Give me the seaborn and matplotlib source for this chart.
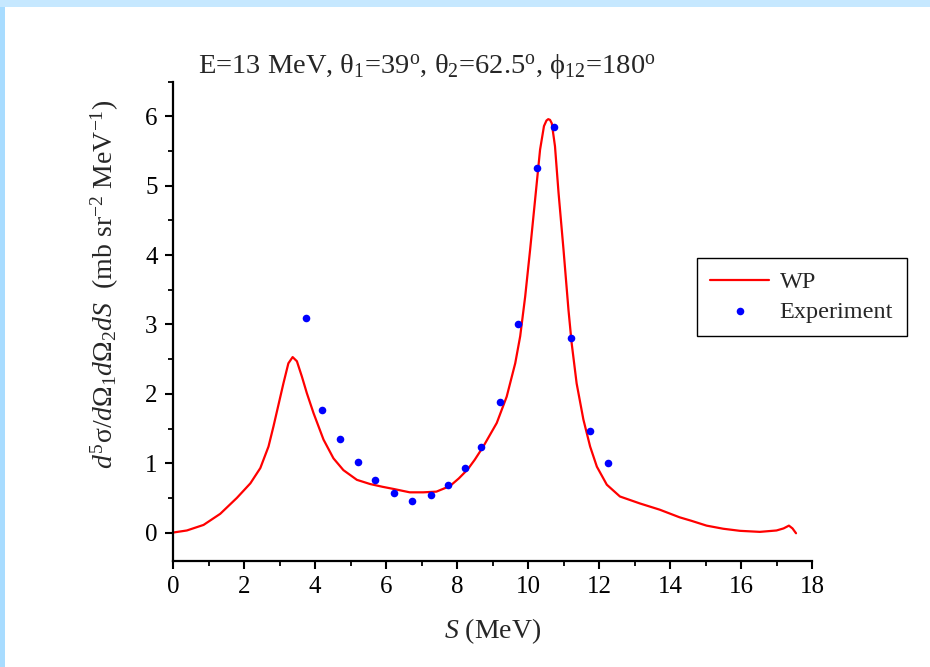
import matplotlib
matplotlib.use("Agg")
import matplotlib.pyplot as plt
import seaborn as sns
import pandas as pd
from matplotlib.patches import Rectangle
from matplotlib.ticker import MultipleLocator

# WP calculation curve
wp_s = [0, 0.39, 0.86, 1.33, 1.80, 2.18, 2.46, 2.69, 2.83, 2.97, 3.11, 3.25, 3.37, 3.49,
        3.63, 3.77, 3.96, 4.24, 4.52, 4.80, 5.18, 5.55, 5.90, 6.20, 6.67, 7.05, 7.42,
        7.80, 8.05, 8.30, 8.50, 8.74, 9.12, 9.40, 9.64, 9.78, 9.92, 10.06, 10.20, 10.34,
        10.45, 10.52, 10.57, 10.62, 10.67, 10.76, 10.86, 11.00, 11.14, 11.23, 11.37,
        11.56, 11.75, 11.94, 12.22, 12.59, 13.15, 13.71, 14.27, 14.60, 15.03, 15.50,
        15.97, 16.53, 17.00, 17.20, 17.35, 17.45, 17.55]
wp_val = [0, 0.03, 0.11, 0.27, 0.50, 0.71, 0.93, 1.24, 1.53, 1.84, 2.15, 2.44, 2.53, 2.47,
          2.25, 2.01, 1.72, 1.34, 1.07, 0.90, 0.76, 0.70, 0.66, 0.63, 0.58, 0.58, 0.59,
          0.67, 0.78, 0.91, 1.05, 1.24, 1.58, 1.96, 2.44, 2.83, 3.40, 4.08, 4.80, 5.52,
          5.86, 5.94, 5.96, 5.95, 5.90, 5.57, 4.90, 4.08, 3.21, 2.73, 2.15,
          1.63, 1.24, 0.95, 0.69, 0.52, 0.42, 0.33, 0.22, 0.17, 0.10, 0.055,
          0.025, 0.01, 0.03, 0.06, 0.10, 0.06, -0.01]

# Experimental data
exp_s = [3.76, 4.20, 4.71, 5.21, 5.68, 6.23, 6.72, 7.26, 7.76, 8.23, 8.69, 9.21,
         9.73, 10.26, 10.73, 11.20, 11.74, 12.25]
exp_val = [3.10, 1.77, 1.35, 1.02, 0.76, 0.57, 0.45, 0.54, 0.68, 0.93, 1.23, 1.88,
           3.01, 5.26, 5.84, 2.81, 1.46, 1.00]

x_ticks = [0, 2, 4, 6, 8, 10, 12, 14, 16, 18]
y_ticks = [0, 1, 2, 3, 4, 5, 6]

sns.set_theme(style="ticks")
plt.rcParams['font.family'] = ['Liberation Serif', 'DejaVu Serif']
plt.rcParams['mathtext.fontset'] = 'custom'
plt.rcParams['mathtext.rm'] = 'Liberation Serif'
plt.rcParams['mathtext.it'] = 'Liberation Serif:italic'
plt.rcParams['mathtext.bf'] = 'Liberation Serif:bold'

fig = plt.figure(figsize=(9.3, 6.67), dpi=100)
fig.patch.set_facecolor('white')
ax = fig.add_axes([173/930, 1-561/667, (812-173)/930, (561-81.7)/667])

wp_df = pd.DataFrame({"S": wp_s, "val": wp_val})
exp_df = pd.DataFrame({"S": exp_s, "val": exp_val})

sns.lineplot(data=wp_df, x="S", y="val", sort=False, color="#ff0000", lw=1.6,
             ax=ax, label="WP", estimator=None)
sns.scatterplot(data=exp_df, x="S", y="val", color="#0000ff", s=30, edgecolor="#0000ff",
                linewidth=0, ax=ax, label="Experiment", zorder=3)

ax.set_xlim(0, 18)
ax.set_ylim(-0.41, 6.5)
ax.set_xticks(x_ticks)
ax.set_yticks(y_ticks)
ax.xaxis.set_minor_locator(MultipleLocator(1))
ax.yaxis.set_minor_locator(MultipleLocator(0.5))
for s in ["top", "right"]:
    ax.spines[s].set_visible(False)
for s in ["left", "bottom"]:
    ax.spines[s].set_linewidth(1.6)
    ax.spines[s].set_color("black")
ax.tick_params(which="major", direction="out", length=6, width=1.5, labelsize=18,
               colors="black", pad=5)
ax.tick_params(which="minor", direction="out", length=3.5, width=1.3, colors="black")

ax.set_xlabel("$S$ (MeV)", fontsize=20, labelpad=13)
ax.set_ylabel("$d^5$σ/$d$Ω$_1$$d$Ω$_2$$dS$  (mb sr$^{-2}$ MeV$^{-1}$)", fontsize=20)
ax.yaxis.set_label_coords((105-173)/639, (561-284)/479.3)
ax.yaxis.label.set_va("center")

fig.text(427/930, 1-67/667,
         "E=13 MeV, θ$_1$=39$^{\\rm o}$, θ$_2$=62.5$^{\\rm o}$, ϕ$_{12}$=180$^{\\rm o}$",
         ha="center", va="center", fontsize=20.5)

leg = ax.legend(loc="upper left", bbox_to_anchor=(697/930, 1-258/667),
                bbox_transform=fig.transFigure, fontsize=17.5, frameon=True, fancybox=False,
                framealpha=1, edgecolor="black", handlelength=2.4, borderpad=0.55,
                labelspacing=0.3, handletextpad=0.45, borderaxespad=0)
leg.get_frame().set_linewidth(1.0)

# light blue frame strips
fig.patches.append(Rectangle((0, 0), 5/930, 1, transform=fig.transFigure,
                             facecolor="#a8dcff", edgecolor="none", zorder=0))
fig.patches.append(Rectangle((0, 1-7/667), 1, 7/667, transform=fig.transFigure,
                             facecolor="#c6e8ff", edgecolor="none", zorder=0))

fig.savefig("out.png", dpi=100)
